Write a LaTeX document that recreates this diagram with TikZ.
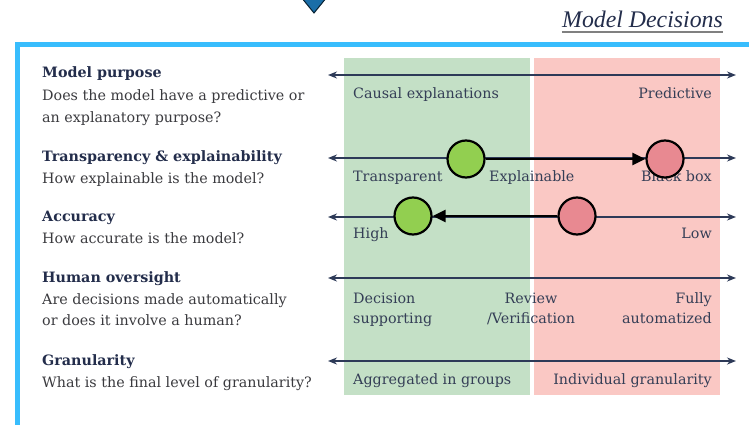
\documentclass[tikz,border=0pt]{standalone}
\usepackage{fontspec}
\setmainfont{DejaVu Serif}
\newfontfamily\headfont{Liberation Serif}
\usetikzlibrary{arrows.meta}
\definecolor{frameblue}{RGB}{56,189,253}
\definecolor{navy}{RGB}{35,45,75}
\definecolor{qgrey}{RGB}{58,58,62}
\definecolor{labgrey}{RGB}{52,62,86}
\definecolor{axisnavy}{RGB}{45,58,88}
\definecolor{zonegreen}{RGB}{196,224,198}
\definecolor{zonered}{RGB}{250,200,196}
\definecolor{dotgreen}{RGB}{146,207,80}
\definecolor{dotred}{RGB}{232,137,145}
\definecolor{tipblue}{RGB}{26,110,168}

\begin{document}
\begin{tikzpicture}
[x=1pt,y=-1pt,
 ttl/.style={anchor=base west,inner sep=0pt,navy,font=\fontsize{14.3}{16}\selectfont\bfseries},
 qst/.style={anchor=base west,inner sep=0pt,qgrey,font=\fontsize{14.3}{16}\selectfont},
 lab/.style={inner sep=0pt,labgrey,font=\fontsize{14.3}{16}\selectfont},
 ax/.style={{Stealth[length=9pt,width=7pt]}-{Stealth[length=9pt,width=7pt]},axisnavy,line width=1.5pt},
 dotg/.style={draw=black,circle,line width=2.2pt,fill=dotgreen,minimum size=37pt,inner sep=0pt},
 dotr/.style={draw=black,circle,line width=2.2pt,fill=dotred,minimum size=37pt,inner sep=0pt},
 mv/.style={-{Triangle[length=13pt,width=12pt]},black,line width=2.6pt}]
\useasboundingbox (0,0) rectangle (749,425);

% marker and title
\draw [fill=tipblue,draw=black!70!tipblue,line width=1pt] (301,-3) -- (314,13) -- (327,-3) -- cycle;
\node [anchor=base east,inner sep=0pt,navy,font=\fontsize{23.8}{26}\selectfont\headfont\itshape] at (723,28) (title) {Model Decisions};
\draw [gray,line width=1.2pt] ([yshift=-4pt]title.base west) -- ([yshift=-4pt]title.base east);

% frame
\draw [frameblue,line width=5pt] (17,425) -- (17,44.5) -- (749,44.5);

% zones
\fill [zonegreen] (344,58) rectangle (530,395);
\fill [zonered] (534,58) rectangle (720,395);

% questions
\node [ttl] at (42,78) (purposeT) {Model purpose};
\node [qst] at (42,101) (purposeQa) {Does the model have a predictive or};
\node [qst] at (42,122) (purposeQb) {an explanatory purpose?};
\node [ttl] at (42,161) (transT) {Transparency \& explainability};
\node [qst] at (42,183) (transQ) {How explainable is the model?};
\node [ttl] at (42,221) (accT) {Accuracy};
\node [qst] at (42,243) (accQ) {How accurate is the model?};
\node [ttl] at (42,282) (humanT) {Human oversight};
\node [qst] at (42,304) (humanQa) {Are decisions made automatically};
\node [qst] at (42,325) (humanQb) {or does it involve a human?};
\node [ttl] at (42,365) (granT) {Granularity};
\node [qst] at (42,387) (granQ) {What is the final level of granularity?};

% scales
\coordinate (purposeL) at (328,75);
\coordinate (purposeR) at (736,75);
\coordinate (transL) at (328,158);
\coordinate (transR) at (736,158);
\coordinate (accL) at (328,217);
\coordinate (accR) at (736,217);
\coordinate (humanL) at (328,278);
\coordinate (humanR) at (736,278);
\coordinate (granL) at (328,361);
\coordinate (granR) at (736,361);
\draw [ax] (purposeL) -- (purposeR);
\draw [ax] (transL) -- (transR);
\draw [ax] (accL) -- (accR);
\draw [ax] (humanL) -- (humanR);
\draw [ax] (granL) -- (granR);

% scale labels
\node [lab,anchor=base west] at (353,99) (causal) {Causal explanations};
\node [lab,anchor=base east] at (712,99) (predictive) {Predictive};
\node [lab,anchor=base west] at (353,181) (transparent) {Transparent};
\node [lab,anchor=base west] at (489,181) (explainable) {Explainable};
\node [lab,anchor=base east] at (712,181) (blackbox) {Black box};
\node [lab,anchor=base west] at (353,238) (high) {High};
\node [lab,anchor=base east] at (712,238) (low) {Low};
\node [lab,anchor=base west] at (353,303) (decisionA) {Decision};
\node [lab,anchor=base west] at (353,323) (decisionB) {supporting};
\node [lab,anchor=base] at (531,303) (reviewA) {Review};
\node [lab,anchor=base] at (531,323) (reviewB) {/Verification};
\node [lab,anchor=base east] at (712,303) (fullyA) {Fully};
\node [lab,anchor=base east] at (712,323) (fullyB) {automatized};
\node [lab,anchor=base west] at (353,384) (aggregated) {Aggregated in groups};
\node [lab,anchor=base east] at (712,384) (individual) {Individual granularity};

% moves
\node [dotg] at (466,159) (transFrom) {};
\node [dotr] at (665,159) (transTo) {};
\node [dotr] at (577,216) (accFrom) {};
\node [dotg] at (413,216) (accTo) {};
\draw [mv] (transFrom) -- (transTo);
\draw [mv] (accFrom) -- (accTo);
\end{tikzpicture}
\end{document}
